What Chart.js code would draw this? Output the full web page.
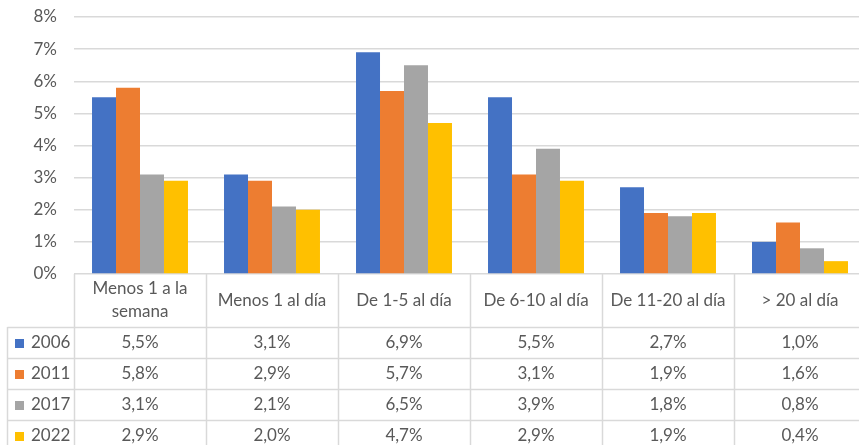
<!DOCTYPE html>
<html>
<head>
<meta charset="utf-8">
<script src="https://cdn.jsdelivr.net/npm/chart.js@4/dist/chart.umd.min.js"></script>
<style>
  html, body { margin: 0; padding: 0; background: #ffffff; }
  #wrap { width: 859px; height: 445px; position: relative; overflow: hidden; }
  #inner { width: 867px; height: 445px; position: absolute; left: 0; top: 0; }
</style>
</head>
<body>
<div id="wrap"><div id="inner"><canvas id="c"></canvas></div></div>
<script>
// ---- data ----
const categories = [["Menos 1 a la", "semana"], "Menos 1 al día", "De 1-5 al día", "De 6-10 al día", "De 11-20 al día", "> 20 al día"];
const seriesNames = ["2006", "2011", "2017", "2022"];
const values2006 = [5.5, 3.1, 6.9, 5.5, 2.7, 1.0];
const values2011 = [5.8, 2.9, 5.7, 3.1, 1.9, 1.6];
const values2017 = [3.1, 2.1, 6.5, 3.9, 1.8, 0.8];
const values2022 = [2.9, 2.0, 4.7, 2.9, 1.9, 0.4];
const yTicks = [0, 1, 2, 3, 4, 5, 6, 7, 8];

const seriesValues = [values2006, values2011, values2017, values2022];
const colors = ["#4472C4", "#ED7D31", "#A5A5A5", "#FFC000"];
const FONT = "Lato";
const TXT = "#595959";
const GRID = "#d9d9d9";

const fmt = v => v.toFixed(1).replace('.', ',') + '%';

const tablePlugin = {
  id: 'dataTable',
  afterDraw(chart) {
    const ctx = chart.ctx;
    const xs = chart.scales.x;
    const ca = chart.chartArea;
    const n = categories.length;
    const colW = (ca.right - ca.left) / n;
    const top = ca.bottom;
    const headerBottom = top + 53;
    const rowH = 31;
    const leftEdge = 7.5;
    ctx.save();
    ctx.strokeStyle = GRID;
    ctx.lineWidth = 1.5;
    for (let i = 0; i <= n; i++) {
      const x = Math.round(xs.getPixelForValue(0) - colW / 2 + i * colW) + 0.5;
      ctx.beginPath();
      ctx.moveTo(x, top);
      ctx.lineTo(x, chart.height + 5);
      ctx.stroke();
    }
    ctx.beginPath();
    ctx.moveTo(leftEdge, headerBottom);
    ctx.lineTo(leftEdge, chart.height + 5);
    ctx.stroke();
    for (let r = 0; r < seriesNames.length; r++) {
      const y = Math.round(headerBottom + r * rowH) + 0.5;
      ctx.beginPath();
      ctx.moveTo(leftEdge, y);
      ctx.lineTo(ca.right, y);
      ctx.stroke();
    }
    ctx.fillStyle = TXT;
    ctx.font = "17px " + FONT;
    ctx.textAlign = "center";
    ctx.textBaseline = "middle";
    const hMid = (top + headerBottom) / 2;
    categories.forEach((c, i) => {
      const x = xs.getPixelForValue(i);
      const lines = Array.isArray(c) ? c : [c];
      const lh = 23;
      lines.forEach((t, k) => {
        ctx.fillText(t, x, hMid + (k - (lines.length - 1) / 2) * lh);
      });
    });
    seriesNames.forEach((name, r) => {
      const yMid = headerBottom + r * rowH + rowH / 2;
      ctx.fillStyle = colors[r];
      ctx.fillRect(15, Math.round(yMid - 4), 9, 9);
      ctx.fillStyle = TXT;
      ctx.textAlign = "left";
      ctx.fillText(name, 31, yMid);
      ctx.textAlign = "center";
      seriesValues[r].forEach((v, i) => {
        ctx.fillText(fmt(v), xs.getPixelForValue(i), yMid);
      });
    });
    ctx.restore();
  }
};

new Chart(document.getElementById('c'), {
  type: 'bar',
  data: {
    labels: categories,
    datasets: seriesNames.map((name, i) => ({
      label: name,
      data: seriesValues[i],
      backgroundColor: colors[i],
      borderWidth: 0,
      barPercentage: 1.0,
      categoryPercentage: 0.727
    }))
  },
  options: {
    responsive: true,
    maintainAspectRatio: false,
    animation: false,
    layout: { padding: { top: 17, right: 1, left: 0, bottom: 0 } },
    plugins: { legend: { display: false }, tooltip: { enabled: false } },
    scales: {
      x: {
        grid: { display: false, drawTicks: false },
        border: { display: false },
        ticks: { display: false },
        afterFit(scale) { scale.height = 171; }
      },
      y: {
        min: 0, max: 8,
        afterBuildTicks(scale) { scale.ticks = yTicks.map(v => ({ value: v })); },
        grid: { color: GRID, lineWidth: 1.5, drawTicks: false },
        border: { display: false },
        ticks: {
          padding: 17,
          color: TXT,
          font: { family: FONT, size: 17 },
          callback: v => v + '%'
        },
        afterFit(scale) { scale.width = 74; scale.paddingTop = 0; scale.paddingBottom = 0; }
      }
    }
  },
  plugins: [tablePlugin]
});
</script>
</body>
</html>
